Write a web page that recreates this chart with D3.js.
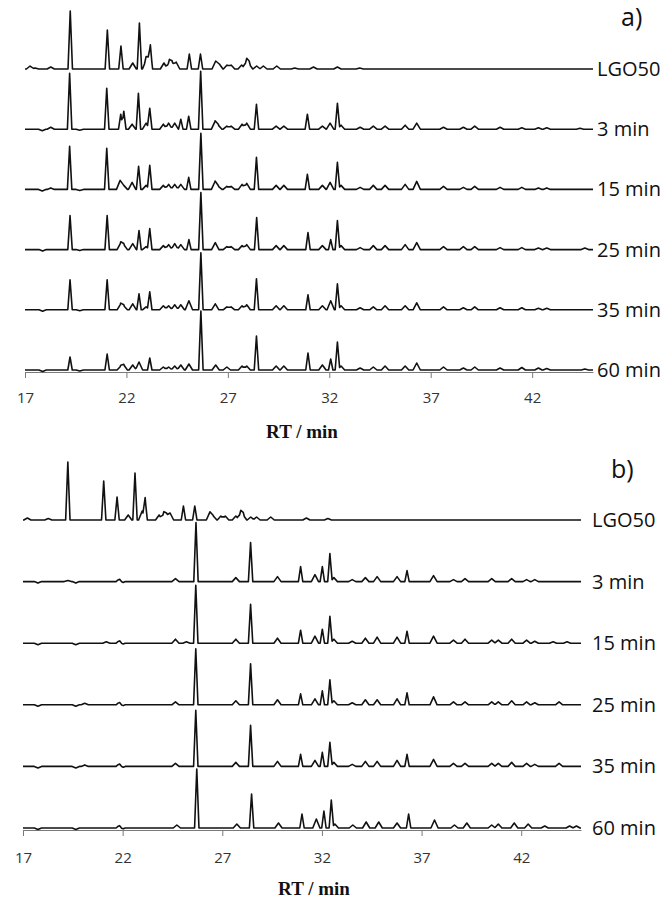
<!DOCTYPE html>
<html>
<head>
<meta charset="utf-8">
<script src="https://cdn.jsdelivr.net/npm/d3@7"></script>
<style>
  body { margin: 0; background: #fff; }
  svg { display: block; }
  .trace { fill: none; stroke: #111; stroke-width: 1.6; stroke-linejoin: round; }
  .axis path, .axis line { stroke: #7a7a7a; }
  .axis text { font-family: "Open Sans", sans-serif; font-size: 15px; fill: #333; }
  .lbl { font-family: "Open Sans", sans-serif; font-size: 20px; fill: #111; }
  .letter { font-family: "Open Sans", sans-serif; font-size: 25px; fill: #111; }
  .title { font-family: "Liberation Serif", serif; font-size: 19px; font-weight: bold; fill: #111; }
</style>
</head>
<body>
<div id="chart"></div>
<script>
// trace names, top to bottom
const traceNames = ["LGO50", "3 min", "15 min", "25 min", "35 min", "60 min"]
const tickValues = [17, 22, 27, 32, 37, 42]
const rtRange = [17, 45]

// peaks as [RT (min), height], panel a)
const aLGO50 = [[17.25,3],[17.5,1],[18.27,2],[19.23,58],[21.06,39],[21.73,23],[22.31,6],[22.64,46],[22.97,9],[23.07,8],[23.18,21],[23.85,6],[24.12,8],[24.25,6],[24.45,7],[25.1,15],[25.65,15],[26.4,8],[26.58,5],[26.96,4],[27.16,4],[27.68,4],[27.93,9],[28.05,5],[28.42,3],[28.75,3],[29.41,3],[30.3,1],[31.22,2],[32.4,2],[33.5,1]]
const a3 = [[17.85,-1.5],[18.27,2],[19.2,56],[19.7,-1],[21.03,41],[21.72,15],[21.87,18],[22.28,5],[22.59,36],[22.97,6],[23.15,21],[23.82,5],[24.08,6],[24.38,6],[24.68,10],[25.07,13],[25.66,58],[26.37,8],[26.53,4],[26.95,3],[27.16,3],[27.7,5],[27.93,6],[28.41,25],[29.38,3],[29.76,3],[30.92,15],[31.66,3],[32.04,6],[32.4,26],[32.58,4],[33.52,2],[34.17,3],[34.75,3],[35.74,4],[36.31,6],[37.63,2],[38.61,2],[39.17,3],[40.42,2],[41.49,1.5],[42.31,1.5],[42.72,1.5],[44.36,1]]
const a15 = [[17.85,-1.5],[18.27,1.5],[19.2,43],[19.7,-1],[21.03,41],[21.69,9],[21.87,4],[22.28,7],[22.6,23],[22.97,4],[23.15,24],[23.82,4],[24.08,5],[24.38,5],[24.68,5],[25.07,12],[25.67,56],[26.37,8],[26.53,3],[26.95,3],[27.16,3],[27.7,5],[27.93,6],[28.41,32],[29.38,4],[29.76,4],[30.92,15],[31.66,4],[32.04,7],[32.4,27],[32.58,4],[33.52,2],[34.17,4],[34.75,4],[35.74,5],[36.31,8],[37.63,3],[38.61,2],[39.17,3],[40.42,2],[41.49,2],[42.31,1.5],[42.72,1.5]]
const a25 = [[17.87,-1.5],[19.22,34],[19.7,-1],[21.05,34],[21.72,7],[21.87,5],[22.31,6],[22.62,19],[22.97,3],[23.15,21],[23.82,4],[24.08,5],[24.38,6],[24.68,5],[25.08,10],[25.67,57],[26.38,7],[26.95,3],[27.16,3],[27.7,4],[27.93,5],[28.42,32],[29.38,4],[29.76,4],[30.95,17],[31.66,4],[32.07,10],[32.4,29],[32.58,4],[33.52,2],[34.17,4],[34.75,4],[35.74,5],[36.31,7],[37.63,3],[38.61,3],[39.17,3],[40.42,2],[41.49,2],[42.31,1.5],[42.72,1.5],[44.6,1.5]]
const a35 = [[17.87,-1.5],[19.22,30],[19.7,-1],[21.05,30],[21.72,6],[21.87,4],[22.31,6],[22.62,16],[22.97,3],[23.15,18],[23.82,4],[24.08,4],[24.38,5],[24.68,5],[25.08,9],[25.67,57],[26.38,6],[26.95,3],[27.16,3],[27.7,4],[27.93,5],[28.41,31],[29.38,4],[29.76,4],[30.95,15],[31.66,4],[32.07,9],[32.4,26],[32.58,4],[33.52,2],[34.17,3],[34.75,4],[35.74,4],[36.31,7],[37.63,3],[38.61,2],[39.17,3],[40.42,2],[41.49,2],[42.31,1.5],[42.72,1.5]]
const a60 = [[17.87,-1.5],[19.22,13],[19.7,-1],[21.05,16],[21.72,4],[21.87,5],[22.31,5],[22.62,8],[23.15,12],[23.82,3],[24.08,3],[24.38,4],[24.68,5],[25.08,6],[25.67,59],[26.4,5],[26.95,3],[27.7,4],[27.93,4],[28.41,34],[29.38,4],[29.76,4],[30.95,17],[31.66,5],[32.07,11],[32.4,28],[32.58,4],[33.52,2],[34.17,3],[34.75,4],[35.74,4],[36.31,7],[37.63,3],[38.61,2],[39.17,3],[40.42,2],[41.49,2.5],[42.31,2],[42.72,1.5],[44.6,1]]

// panel b)
const bLGO50 = [[17.22,2],[18.27,1.5],[19.25,58],[21.05,39],[21.72,23],[22.28,5],[22.62,47],[22.98,9],[23.13,21],[23.83,5],[24.07,7],[24.2,5],[24.38,7],[25.05,14],[25.62,14],[26.38,8],[26.55,4],[26.93,4],[27.15,4],[27.68,4],[27.93,8],[28.05,5],[28.43,3],[28.72,3],[29.43,3],[31.22,2],[32.3,1.5]]
const b3 = [[17.75,-1.5],[19.25,1],[19.65,-1.5],[21.85,3],[21.95,-1.5],[24.65,3],[25.68,59],[27.68,4],[28.42,39],[29.77,5],[30.93,15],[31.65,7],[32.02,15],[32.4,28],[32.6,4],[33.52,2],[34.18,4],[34.77,5],[35.77,5],[36.27,11],[37.6,6],[38.6,2],[39.18,3],[40.52,3],[41.52,3],[42.27,2],[42.68,2]]
const b15 = [[17.75,-1.5],[19.65,-1.5],[21.18,1.5],[21.85,3],[21.95,-1.5],[24.65,4],[25.2,1.5],[25.67,58],[27.68,4],[28.42,39],[29.77,5],[30.93,13],[31.65,7],[32.02,14],[32.4,27],[32.6,4],[33.52,2],[34.18,5],[34.77,6],[35.77,6],[36.27,12],[37.6,7],[38.6,3],[39.18,4],[40.52,3],[40.85,3],[41.52,4],[42.27,3],[42.68,2],[43.6,1.5],[44.3,1.5]]
const b25 = [[17.75,-1.5],[19.65,-1.5],[20.1,1.5],[21.85,3],[21.95,-1.5],[24.65,3],[25.67,56],[27.68,4],[28.42,41],[29.77,5],[30.93,11],[31.65,6],[32.02,14],[32.4,25],[32.6,4],[33.52,2],[34.18,5],[34.77,5],[35.77,6],[36.27,12],[37.6,8],[38.6,3],[39.18,3],[40.52,3],[40.85,3],[41.52,4],[42.27,3],[42.68,2],[43.9,3]]
const b35 = [[17.75,-1.5],[19.65,-1.5],[20.1,1.5],[21.85,3],[21.95,-1.5],[24.65,3],[25.67,56],[27.68,4],[28.42,41],[29.77,5],[30.93,12],[31.65,6],[32.02,14],[32.4,24],[32.6,4],[33.52,2],[34.18,5],[34.77,5],[35.77,6],[36.27,12],[37.6,7],[38.6,3],[39.18,3],[40.52,3],[40.85,3],[41.52,4],[42.27,3],[42.68,2],[43.9,3]]
const b60 = [[17.75,-1.5],[19.65,-1.5],[21.85,3],[21.95,-1.5],[24.72,3],[25.72,59],[27.73,4],[28.47,34],[29.82,5],[31.0,14],[31.72,9],[32.1,17],[32.47,28],[32.65,4],[33.55,3],[34.22,6],[34.85,6],[35.77,5],[36.35,14],[37.65,8],[38.65,3],[39.27,5],[40.52,3],[40.85,4],[41.65,5],[42.35,4],[43.18,2],[44.43,2],[44.77,2]]

const panels = [
  { letter: "a)", traces: [aLGO50, a3, a15, a25, a35, a60], x0: 25, x1: 593, top: 69, bottom: 370,
    labelX: 597, letterX: 621, letterY: 26, titleX: 302, titleY: 438, tickPad: 14 },
  { letter: "b)", traces: [bLGO50, b3, b15, b25, b35, b60], x0: 23, x1: 581, top: 520, bottom: 828,
    labelX: 592, letterX: 611, letterY: 478, titleX: 314, titleY: 895, tickPad: 16 }
]

const svg = d3.select("#chart").append("svg")
  .attr("width", 671)
  .attr("height", 901)

// peak height units -> px
const y = d3.scaleLinear().domain([0, 60]).range([0, 60])

// each peak drawn as a narrow spike, overlapping spikes add up
function spikePoints(peaks) {
  const halfW = h => Math.abs(h) >= 10 ? 0.11 : 0.18
  let xs = [rtRange[0], rtRange[1]]
  peaks.forEach(([rt, h]) => xs.push(rt - halfW(h), rt, rt + halfW(h)))
  xs = xs.filter(v => v >= rtRange[0] && v <= rtRange[1]).sort((a, b) => a - b)
  return xs.map(v => {
    let s = 0
    peaks.forEach(([rt, h]) => {
      const w = halfW(h)
      const d = Math.abs(v - rt)
      if (d < w) s += h * (1 - d / w)
    })
    return [v, s]
  })
}

panels.forEach(p => {
  const x = d3.scaleLinear().domain(rtRange).range([p.x0, p.x1])
  const row = d3.scalePoint().domain(traceNames).range([p.top, p.bottom])
  const g = svg.append("g")

  // x axis
  g.append("g")
    .attr("class", "axis")
    .attr("transform", `translate(0,${p.bottom + 2})`)
    .call(d3.axisBottom(x).tickValues(tickValues).tickSize(6).tickSizeOuter(0).tickPadding(p.tickPad))

  traceNames.forEach((name, i) => {
    const base = row(name)
    const line = d3.line()
      .x(d => x(d[0]))
      .y(d => base - y(d[1]))
    g.append("path")
      .attr("class", "trace")
      .attr("d", line(spikePoints(p.traces[i])))
    g.append("text")
      .attr("class", "lbl")
      .attr("x", p.labelX)
      .attr("y", base + 7)
      .text(name)
  })

  g.append("text")
    .attr("class", "letter")
    .attr("x", p.letterX)
    .attr("y", p.letterY)
    .text(p.letter)

  g.append("text")
    .attr("class", "title")
    .attr("x", p.titleX)
    .attr("y", p.titleY)
    .attr("text-anchor", "middle")
    .text("RT / min")
})
</script>
</body>
</html>
